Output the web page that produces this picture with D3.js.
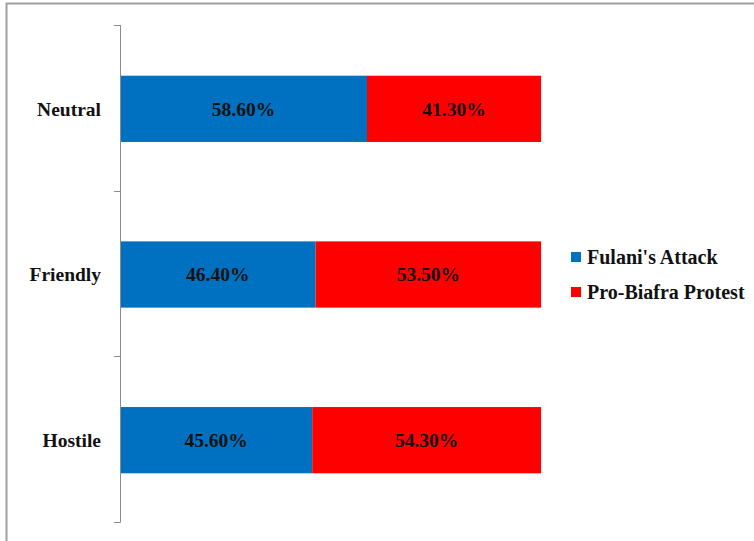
<!DOCTYPE html>
<html>
<head>
<meta charset="utf-8">
<script src="https://cdn.jsdelivr.net/npm/d3@7"></script>
<style>
  html, body { margin: 0; padding: 0; background: #fff; }
  svg { display: block; }
  svg text { font-family: "Liberation Serif", "Times New Roman", "DejaVu Serif", serif; font-weight: bold; }
</style>
</head>
<body>
<svg id="chart" width="754" height="541"></svg>
<script>
// Attitude categories (top to bottom) and the share of each news item
const categories = ["Neutral", "Friendly", "Hostile"];
const fulaniAttack = [58.6, 46.4, 45.6];
const proBiafraProtest = [41.3, 53.5, 54.3];
const seriesNames = ["Fulani's Attack", "Pro-Biafra Protest"];
const seriesColors = ["#0070C0", "#FF0000"];

const svg = d3.select("#chart");

// Outer frame (only top and left edges fall inside the canvas)
svg.append("rect")
  .attr("x", 6.5).attr("y", 3.5)
  .attr("width", 800).attr("height", 600)
  .attr("fill", "none")
  .attr("stroke", "#a0a0a0")
  .attr("stroke-width", 2);

const x = d3.scaleLinear().domain([0, 100]).range([120, 541.5]);
const y = d3.scaleBand().domain(categories).range([26, 523]).paddingInner(0.6).paddingOuter(0.3);

// Stack the two series per category
const rows = categories.map((c, i) => ({ cat: c, a: fulaniAttack[i], b: proBiafraProtest[i] }));
const stack = d3.stack().keys(["a", "b"])(rows);

const g = svg.append("g");
stack.forEach((layer, si) => {
  g.selectAll(null)
    .data(layer)
    .join("rect")
    .attr("x", d => x(d[0]))
    .attr("y", d => y(d.data.cat))
    .attr("width", d => x(d[1]) - x(d[0]))
    .attr("height", y.bandwidth())
    .attr("fill", seriesColors[si]);

  g.selectAll(null)
    .data(layer)
    .join("text")
    .attr("x", d => (x(d[0]) + x(d[1])) / 2)
    .attr("y", d => y(d.data.cat) + y.bandwidth() / 2)
    .attr("dy", "0.35em")
    .attr("text-anchor", "middle")
    .attr("font-size", 19.5)
    .attr("fill", "#111")
    .text(d => (d[1] - d[0]).toFixed(2) + "%");
});

// Category axis: vertical line with ticks at band boundaries
const axisG = svg.append("g");
axisG.append("line")
  .attr("x1", 120.5).attr("x2", 120.5)
  .attr("y1", 25).attr("y2", 522.5)
  .attr("stroke", "#8c8c8c").attr("stroke-width", 1);
const bounds = d3.range(categories.length + 1).map(i => 25 + (522 - 25) * i / categories.length);
axisG.selectAll(null)
  .data(bounds)
  .join("line")
  .attr("x1", 114).attr("x2", 120.5)
  .attr("y1", d => Math.round(d) + 0.5).attr("y2", d => Math.round(d) + 0.5)
  .attr("stroke", "#8c8c8c").attr("stroke-width", 1);

axisG.selectAll(null)
  .data(categories)
  .join("text")
  .attr("x", 101)
  .attr("y", d => y(d) + y.bandwidth() / 2)
  .attr("dy", "0.35em")
  .attr("text-anchor", "end")
  .attr("font-size", 19.5)
  .attr("fill", "#111")
  .text(d => d);

// Legend
const legend = svg.append("g");
seriesNames.forEach((name, i) => {
  const ly = 257 + i * 35;
  legend.append("rect")
    .attr("x", 571).attr("y", ly - 5)
    .attr("width", 10).attr("height", 10)
    .attr("fill", seriesColors[i]);
  legend.append("text")
    .attr("x", 587).attr("y", ly)
    .attr("dy", "0.35em")
    .attr("font-size", 20)
    .attr("fill", "#111")
    .text(name);
});
</script>
</body>
</html>
